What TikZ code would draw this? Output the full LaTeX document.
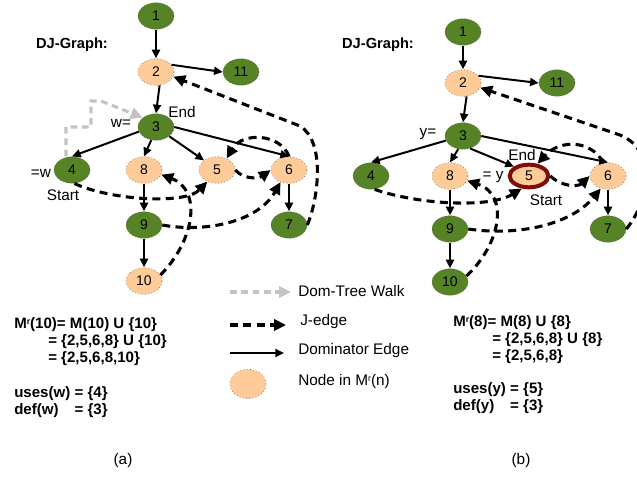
\documentclass[tikz,border=0pt]{standalone}
\usepackage{fontspec}
\setmainfont{Liberation Sans}
\usetikzlibrary{arrows.meta,shapes.geometric}
\definecolor{dgreen}{RGB}{86,131,38}
\definecolor{peach}{RGB}{255,204,153}
\definecolor{dred}{RGB}{128,12,12}
\definecolor{wgray}{RGB}{195,195,195}
\newcommand{\Mr}{M\raisebox{0.55ex}{\fontsize{6.5}{7}\selectfont r}}
\begin{document}
\begin{tikzpicture}[x=0.75pt,y=-0.75pt,
  nd/.style={ellipse, draw=black!65, dotted, line width=0.45pt, minimum width=27pt, minimum height=20pt, inner sep=0pt, font=\fontsize{10.5}{12}\selectfont},
  gn/.style={nd, fill=dgreen},
  on/.style={nd, fill=peach},
  hot/.style={ellipse, draw=dred, solid, line width=3pt, fill=peach, minimum width=29pt, minimum height=17pt, inner sep=0pt, font=\fontsize{10.5}{12}\selectfont},
  dom/.style={-{Triangle[length=6.5pt,width=6pt]}, line width=1.5pt, black},
  jedge/.style={-{Triangle[length=9pt,width=8.5pt]}, line width=2.3pt, black, dash pattern=on 6pt off 4pt},
  walk/.style={-{Triangle[length=9pt,width=8.5pt]}, line width=2.3pt, wgray, dash pattern=on 5pt off 3.5pt},
  lbl/.style={font=\fontsize{11.5}{13}\selectfont, inner sep=0pt},
  bl/.style={font=\bfseries\fontsize{11.3}{13}\selectfont, inner sep=0pt, anchor=west},
]
\clip (0,0) rectangle (637,476);
% ---------- panel (a) ----------
\node[gn] (a1) at (156,16) {1};
\node[on] (a2) at (156,72) {2};
\node[gn] (a11) at (241,72) {11};
\node[gn] (a3) at (156,127) {3};
\node[gn] (a4) at (72,170) {4};
\node[on] (a8) at (144,170) {8};
\node[on] (a5) at (217,170) {5};
\node[on] (a6) at (289,170) {6};
\node[gn] (a9) at (144,225) {9};
\node[gn] (a7) at (289,225) {7};
\node[on] (a10) at (144,281) {10};

\draw[dom] (a1) -- (a2);
\draw[dom] (a2.25) -- (a11.west);
\draw[dom] (a2.-75) -- (a3.north);
\draw[dom] (a3.195) -- (a4.north);
\draw[dom] (a3.250) -- (a8.north);
\draw[dom] (a3.-35) -- (a5.north west);
\draw[dom] (a3.east) -- (a6.north);
\draw[dom] (a8) -- (a9);
\draw[dom] (a9) -- (a10);
\draw[dom] (a6) -- (a7);

\draw[jedge] (a4.-80) .. controls (110,200) and (185,205) .. (a5.-130);
\draw[jedge] (a5.east) .. controls (243,179) and (258,179) .. (a6.west);
\draw[jedge] (a9.east) .. controls (205,233) and (258,222) .. (a6.-125);
\draw[jedge] (a10.20) .. controls (195,240) and (202,190) .. (a8.-15);
\draw[jedge] (a6.north) .. controls (280,133) and (242,132) .. (a5.50);
\draw[jedge] (a7.east) .. controls (318,200) and (326,142) .. (300,126) -- (a2.-15);

\draw[walk] ([xshift=-4.5pt]a4.north) |- (91,127) |- (101,101) -- (a3.145);

\node[font=\bfseries\fontsize{11}{13}\selectfont, inner sep=0pt] (dja) at (72,45) {DJ-Graph:};
\node[lbl] (wa) at (121,123) {w=};
\node[lbl] (ea) at (182,112) {End};
\node[lbl] (wa2) at (41,173) {=w};
\node[lbl] (sa) at (63,195) {Start};

% ---------- panel (b) ----------
\node[gn] (b1) at (463,32) {1};
\node[on] (b2) at (463,83) {2};
\node[gn] (b11) at (557,83) {11};
\node[gn] (b3) at (463,136) {3};
\node[gn] (b4) at (371,176) {4};
\node[on] (b8) at (450,176) {8};
\node[hot] (b5) at (529,176) {5};
\node[on] (b6) at (608,176) {6};
\node[gn] (b9) at (450,229) {9};
\node[gn] (b7) at (608,229) {7};
\node[gn] (b10) at (450,282) {10};

\draw[dom] (b1) -- (b2);
\draw[dom] (b2.25) -- (b11.west);
\draw[dom] (b2.-75) -- (b3.north);
\draw[dom] (b3.195) -- (b4.north);
\draw[dom] (b3.250) -- (b8.north);
\draw[dom] (b3.-60) -- (b5.north west);
\draw[dom] (b3.east) -- (b6.north);
\draw[dom] (b8) -- (b9);
\draw[dom] (b9) -- (b10);
\draw[dom] (b6) -- (b7);

\draw[jedge] (b4.-75) .. controls (420,205) and (490,208) .. (b5.-120);
\draw[jedge] (b5.east) .. controls (562,187) and (578,187) .. (b6.west);
\draw[jedge] (b9.east) .. controls (515,236) and (570,226) .. (b6.-120);
\draw[jedge] (b10.20) .. controls (500,245) and (510,195) .. (b8.-15);
\draw[jedge] (b6.110) .. controls (592,140) and (560,139) .. (b5.55);
\draw[jedge] (b7.east) .. controls (650,200) and (657,150) .. (620,135) -- (b2.-15);

\node[font=\bfseries\fontsize{11}{13}\selectfont, inner sep=0pt] (djb) at (378,45) {DJ-Graph:};
\node[lbl] (yb) at (428,134) {y=};
\node[lbl] (eb) at (522,155) {End};
\node[lbl] (yb2) at (493,177) {= y};
\node[lbl] (sb) at (546,200) {Start};

% ---------- legend ----------
\coordinate (w1) at (230,292); \coordinate (w2) at (291,292);
\draw[walk] (w1) -- (w2);
\coordinate (j1) at (230,325); \coordinate (j2) at (286,325);
\draw[jedge] (j1) -- (j2);
\coordinate (d1) at (230,353); \coordinate (d2) at (284,353);
\draw[dom] (d1) -- (d2);
\node[on, minimum width=27pt, minimum height=22pt] (leg) at (248,384) {};
\node[lbl, anchor=west] (tw) at (298,291) {Dom-Tree Walk};
\node[lbl, anchor=west] (tj) at (300,322) {J-edge};
\node[lbl, anchor=west] (td) at (298,351) {Dominator Edge};
\node[lbl, anchor=west] (tn) at (298,382) {Node in \Mr(n)};

% ---------- text blocks ----------
\node[bl] (ma1) at (14,325) {\Mr(10)= M(10) U \{10\}};
\node[bl] (ma2) at (48,342) {= \{2,5,6,8\} U \{10\}};
\node[bl] (ma3) at (48,359) {= \{2,5,6,8,10\}};
\node[bl] (ua) at (14,394) {uses(w) = \{4\}};
\node[bl] (da) at (14,411) {\makebox[0pt][l]{def(w)}\phantom{uses(w) }= \{3\}};

\node[bl] (mb1) at (453,323) {\Mr(8)= M(8) U \{8\}};
\node[bl] (mb2) at (492,340) {= \{2,5,6,8\} U \{8\}};
\node[bl] (mb3) at (492,357) {= \{2,5,6,8\}};
\node[bl] (ub) at (453,390) {uses(y) = \{5\}};
\node[bl] (db) at (453,407) {\makebox[0pt][l]{def(y)}\phantom{uses(y) }= \{3\}};

\node[lbl] (capa) at (123,461) {(a)};
\node[lbl] (capb) at (521,461) {(b)};
\end{tikzpicture}
\end{document}
